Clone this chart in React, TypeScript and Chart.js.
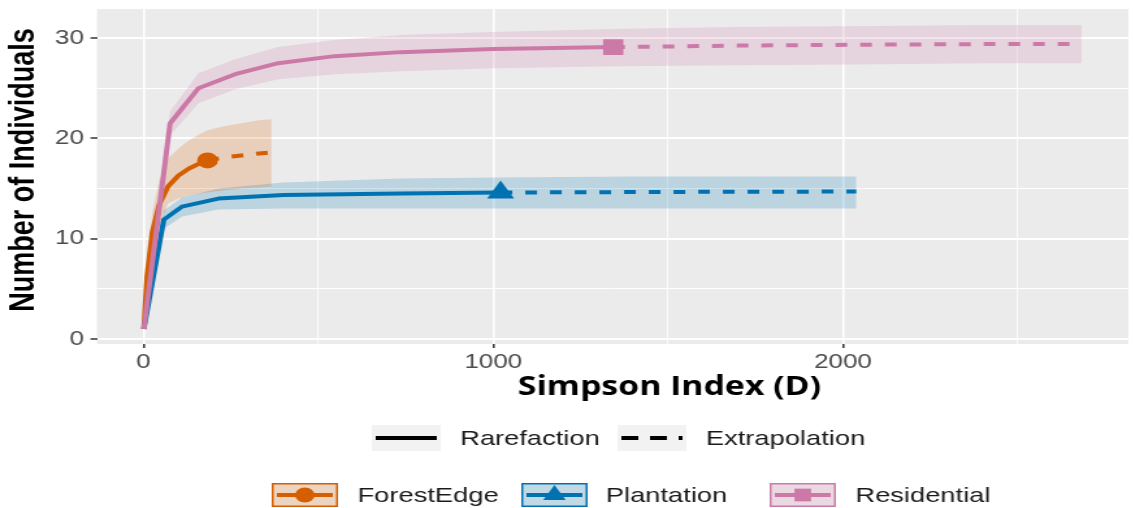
import React, { useEffect, useRef } from 'react';
import { Chart, registerables } from 'chart.js';

Chart.register(...registerables);

// ---------------- data ----------------
const groups = ['ForestEdge', 'Plantation', 'Residential'];
const lineColors = ['#D55E00', '#0072B2', '#CC79A7'];
const bandColors = ['rgba(213,94,0,0.2)', 'rgba(0,114,178,0.2)', 'rgba(204,121,167,0.2)'];
const markerStyles = ['circle', 'triangle', 'rect'];
const markerRadii = [8, 12, 11];

// ForestEdge
const feRareX = [1, 10, 25, 45, 70, 100, 130, 160, 183];
const feRareY = [1, 6.2, 10.6, 13.4, 15.2, 16.3, 17.0, 17.5, 17.8];
const feExtX = [183, 230, 280, 330, 366];
const feExtY = [17.8, 18.1, 18.3, 18.5, 18.6];
const feLo = [1, 4.8, 8.5, 11.2, 13.5, 14.0, 14.3, 14.5, 14.6, 14.8, 15.0, 15.1, 15.2];
const feHi = [1, 7.5, 12.5, 15.8, 18.0, 19.0, 19.8, 20.4, 20.8, 21.2, 21.5, 21.8, 21.9];

// Plantation
const plRareX = [1, 58, 110, 214, 400, 736, 1021];
const plRareY = [1, 11.9, 13.2, 14.0, 14.35, 14.5, 14.6];
const plExtX = [1021, 1400, 1700, 2038];
const plExtY = [14.6, 14.65, 14.68, 14.7];
const plLo = [1, 11.0, 12.2, 12.9, 13.0, 13.0, 13.0, 13.0, 13.0, 13.0];
const plHi = [1, 12.8, 14.1, 15.0, 15.6, 16.0, 16.1, 16.2, 16.2, 16.2];

// Residential
const reRareX = [1, 76, 157, 262, 385, 546, 736, 1000, 1343];
const reRareY = [1, 21.5, 25.0, 26.4, 27.5, 28.2, 28.6, 28.9, 29.1];
const reExtX = [1343, 1700, 2100, 2400, 2682];
const reExtY = [29.1, 29.25, 29.35, 29.4, 29.4];
const reLo = [1, 20.3, 23.5, 24.9, 25.9, 26.4, 26.7, 27.0, 27.2, 27.3, 27.4, 27.5, 27.5];
const reHi = [1, 22.7, 26.5, 27.9, 29.1, 29.8, 30.3, 30.6, 30.9, 31.1, 31.2, 31.3, 31.3];

const rareXs = [feRareX, plRareX, reRareX];
const rareYs = [feRareY, plRareY, reRareY];
const extXs = [feExtX, plExtX, reExtX];
const extYs = [feExtY, plExtY, reExtY];
const los = [feLo, plLo, reLo];
const his = [feHi, plHi, reHi];

// axes
const xTickValues = [0, 500, 1000, 1500, 2000, 2500];
const xTickLabels = ['0', '', '1000', '', '2000', ''];
const yTickValues = [0, 5, 10, 15, 20, 25, 30];
const yTickLabels = ['0', '', '10', '', '20', '', '30'];
const xTitle = 'Simpson Index (D)';
const yTitle = 'Number of Individuals';
const methodLabels = ['Rarefaction', 'Extrapolation'];

// ---------------- layout ----------------
const STRETCH = 1.3;
const CW = Math.round(1134 / STRETCH);
const CH = 508;
const TEXT_FONT = '"Liberation Sans", Arial, sans-serif';

const pts = (xs: number[], ys: number[]) => xs.map((x, i) => ({ x, y: ys[i] }));

function buildDatasets() {
  const ds: any[] = [];
  groups.forEach((g, gi) => {
    const bandX = rareXs[gi].concat(extXs[gi].slice(1));
    const loIndex = ds.length;
    ds.push({
      label: g + ' lo',
      data: pts(bandX, los[gi]),
      borderWidth: 0,
      pointRadius: 0,
      fill: false,
      order: 20,
    });
    ds.push({
      label: g + ' hi',
      data: pts(bandX, his[gi]),
      borderWidth: 0,
      pointRadius: 0,
      backgroundColor: bandColors[gi],
      fill: { target: loIndex },
      order: 20,
    });
    ds.push({
      label: g + ' rarefaction',
      data: pts(rareXs[gi], rareYs[gi]),
      borderColor: lineColors[gi],
      borderWidth: 4,
      pointRadius: 0,
      fill: false,
      borderJoinStyle: 'round',
      order: 10 - gi,
    });
    ds.push({
      label: g + ' extrapolation',
      data: pts(extXs[gi], extYs[gi]),
      borderColor: lineColors[gi],
      borderWidth: 4,
      borderDash: [9, 10],
      pointRadius: 0,
      fill: false,
      order: 10 - gi,
    });
    const last = rareXs[gi].length - 1;
    ds.push({
      label: g + ' observed',
      data: [{ x: rareXs[gi][last], y: rareYs[gi][last] }],
      showLine: false,
      pointStyle: markerStyles[gi],
      pointRadius: markerRadii[gi],
      pointBackgroundColor: lineColors[gi],
      pointBorderWidth: 0,
      order: 1,
    });
  });
  return ds;
}

function drawMarker(ctx: CanvasRenderingContext2D, style: string, x: number, y: number, r: number, color: string) {
  ctx.save();
  ctx.fillStyle = color;
  ctx.beginPath();
  if (style === 'circle') {
    ctx.arc(x, y, r, 0, Math.PI * 2);
  } else if (style === 'triangle') {
    ctx.moveTo(x, y - r);
    ctx.lineTo(x + r * Math.sqrt(3) / 2, y + r / 2);
    ctx.lineTo(x - r * Math.sqrt(3) / 2, y + r / 2);
    ctx.closePath();
  } else {
    const s = r * Math.SQRT1_2;
    ctx.rect(x - s, y - s, 2 * s, 2 * s);
  }
  ctx.fill();
  ctx.restore();
}

const decorPlugin = {
  id: 'decor',
  beforeDraw(chart: any) {
    const { ctx, chartArea } = chart;
    ctx.save();
    ctx.fillStyle = '#EBEBEB';
    ctx.fillRect(chartArea.left, chartArea.top, chartArea.right - chartArea.left, chartArea.bottom - chartArea.top);
    ctx.restore();
  },
  afterDraw(chart: any) {
    const { ctx } = chart;
    ctx.save();
    // x title
    ctx.fillStyle = '#000000';
    ctx.font = 'bold 26px "Open Sans", sans-serif';
    ctx.textAlign = 'center';
    ctx.textBaseline = 'middle';
    ctx.fillText(xTitle, 515, 388);
    // y title
    ctx.save();
    ctx.translate(18.5, 170);
    ctx.rotate(-Math.PI / 2);
    ctx.font = 'bold 27px ' + TEXT_FONT;
    ctx.fillText(yTitle, 0, 0);
    ctx.restore();

    // legend row 1 (method)
    ctx.font = '21px ' + TEXT_FONT;
    ctx.textAlign = 'left';
    const r1y = 438;
    const r1Boxes = [286, 475];
    const r1Text = [354, 543];
    r1Boxes.forEach((bx, i) => {
      ctx.fillStyle = '#F2F2F2';
      ctx.fillRect(bx, r1y - 13, 53, 26);
      ctx.strokeStyle = '#000000';
      ctx.lineWidth = 4;
      ctx.setLineDash(i === 0 ? [] : [13, 9]);
      ctx.beginPath();
      ctx.moveTo(bx + 3, r1y);
      ctx.lineTo(bx + 50, r1y);
      ctx.stroke();
      ctx.setLineDash([]);
      ctx.fillStyle = '#1A1A1A';
      ctx.fillText(methodLabels[i], r1Text[i], r1y + 1);
    });

    // legend row 2 (groups)
    const r2y = 495;
    const r2Boxes = [209, 401, 592];
    const r2Text = [275, 466, 658];
    groups.forEach((g, gi) => {
      const bx = r2Boxes[gi];
      ctx.fillStyle = '#F2F2F2';
      ctx.fillRect(bx, r2y - 12, 51, 24);
      ctx.fillStyle = bandColors[gi];
      ctx.fillRect(bx, r2y - 12, 51, 24);
      ctx.strokeStyle = lineColors[gi];
      ctx.lineWidth = 1.5;
      ctx.strokeRect(bx + 0.75, r2y - 11.25, 49.5, 22.5);
      ctx.lineWidth = 4;
      ctx.beginPath();
      ctx.moveTo(bx + 4, r2y);
      ctx.lineTo(bx + 47, r2y);
      ctx.stroke();
      drawMarker(ctx, markerStyles[gi], bx + 25.5, r2y, gi === 0 ? 7.5 : gi === 1 ? 10 : 9, lineColors[gi]);
      ctx.fillStyle = '#1A1A1A';
      ctx.fillText(g, r2Text[gi], r2y + 1);
    });
    ctx.restore();
  },
};

export default function App() {
  const ref = useRef<HTMLCanvasElement>(null);
  useEffect(() => {
    document.body.style.margin = '0';
    const canvas = ref.current;
    if (!canvas) return;
    const chart = new Chart(canvas, {
      type: 'line',
      data: { datasets: buildDatasets() },
      options: {
        responsive: false,
        animation: false,
        devicePixelRatio: 1,
        layout: { autoPadding: false, padding: { top: 9, right: 4, left: 0, bottom: 0 } },
        elements: { line: { tension: 0 } },
        plugins: {
          legend: { display: false },
          tooltip: { enabled: false },
        },
        scales: {
          x: {
            type: 'linear',
            min: -133,
            max: 2816,
            afterBuildTicks: (s: any) => {
              s.ticks = xTickValues.map((v) => ({ value: v }));
            },
            afterFit: (s: any) => {
              s.height = 164;
              s.paddingLeft = 0;
              s.paddingRight = 0;
            },
            ticks: {
              autoSkip: false,
              maxRotation: 0,
              padding: 2,
              color: '#4D4D4D',
              font: { family: TEXT_FONT, size: 20 },
              callback: (v: any) => {
                const i = xTickValues.indexOf(v);
                return i >= 0 ? xTickLabels[i] : '';
              },
            },
            grid: {
              color: '#FFFFFF',
              lineWidth: (c: any) => (c.tick && c.tick.value % 1000 === 0 ? 1.6 : 0.8),
              drawTicks: true,
              tickLength: 4,
              tickWidth: 1.5,
              tickColor: (c: any) => (c.tick && c.tick.value % 1000 === 0 ? '#333333' : 'rgba(0,0,0,0)'),
            },
            border: { display: false },
          },
          y: {
            type: 'linear',
            min: -0.5,
            max: 32.9,
            afterBuildTicks: (s: any) => {
              s.ticks = yTickValues.map((v) => ({ value: v }));
            },
            afterFit: (s: any) => {
              s.width = 74.6;
              s.paddingTop = 0;
              s.paddingBottom = 0;
            },
            ticks: {
              autoSkip: false,
              padding: 5,
              color: '#4D4D4D',
              font: { family: TEXT_FONT, size: 20 },
              callback: (v: any) => {
                const i = yTickValues.indexOf(v);
                return i >= 0 ? yTickLabels[i] : '';
              },
            },
            grid: {
              color: '#FFFFFF',
              lineWidth: (c: any) => (c.tick && c.tick.value % 10 === 0 ? 2 : 1),
              drawTicks: true,
              tickLength: 5,
              tickWidth: 1.5,
              tickColor: (c: any) => (c.tick && c.tick.value % 10 === 0 ? '#333333' : 'rgba(0,0,0,0)'),
            },
            border: { display: false },
          },
        },
      } as any,
      plugins: [decorPlugin],
    });
    return () => chart.destroy();
  }, []);

  return (
    <div style={{ width: 1134, height: 508, overflow: 'hidden', background: '#FFFFFF' }}>
      <div style={{ width: CW, height: CH, transform: `scaleX(${STRETCH})`, transformOrigin: '0 0' }}>
        <canvas ref={ref} width={CW} height={CH} style={{ display: 'block' }} />
      </div>
    </div>
  );
}
